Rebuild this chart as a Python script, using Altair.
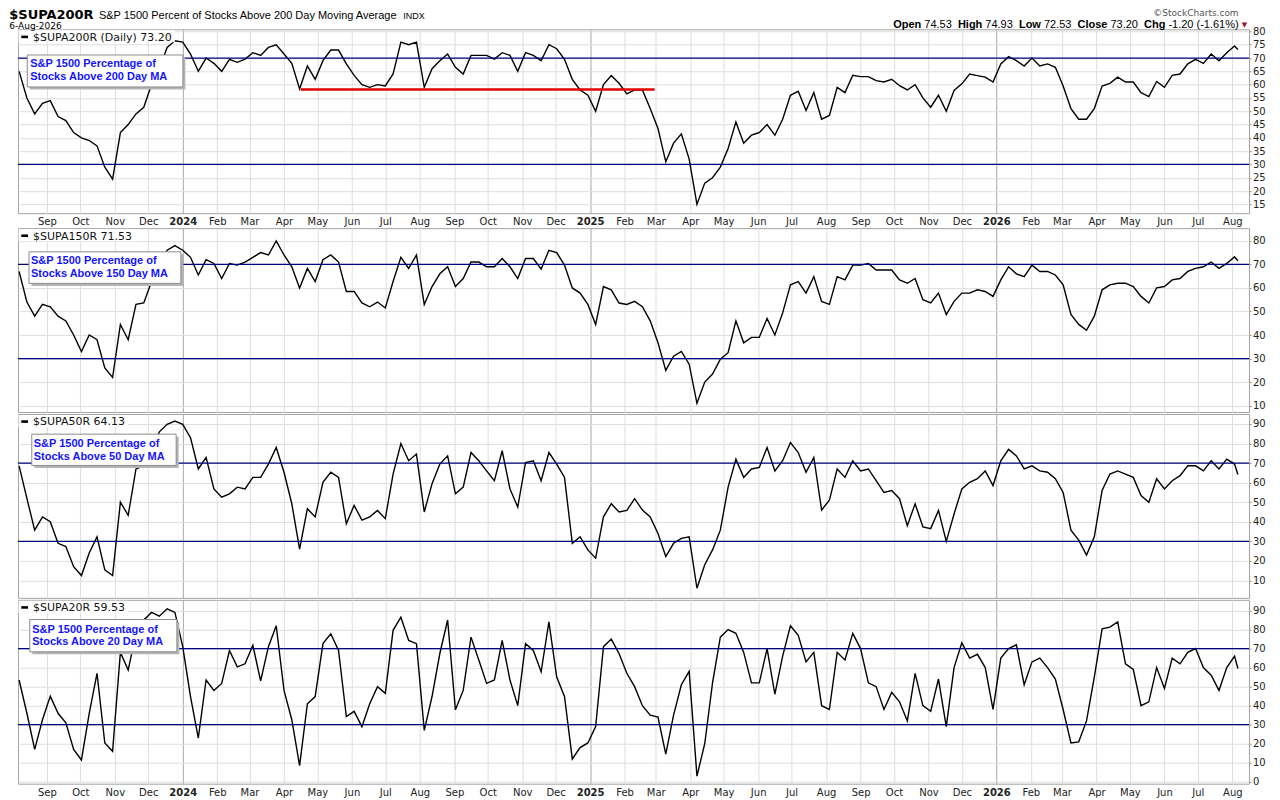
import altair as alt
import pandas as pd

# ---------------- data (weekly readings, plus the last session) ----------------
START = "2023-08-07"
N_WEEKS = 157
LAST_DAY = "2026-08-06"
WEEK_DATES = list(pd.date_range(START, periods=N_WEEKS, freq="7D").strftime("%Y-%m-%dT00:00:00"))
DATES = WEEK_DATES + [LAST_DAY + "T00:00:00"]

SUPA200R = [
    65, 55, 49, 53, 54, 48, 46.5, 42, 40, 39,
    37, 29, 24.5, 42, 45, 49, 51.5, 60, 66, 74,
    76.5, 76, 71.5, 65, 70, 68, 65, 69.5, 68.4, 69.6,
    72, 71, 74, 75, 71.5, 68, 58.4, 67, 62, 69,
    73, 73, 67.8, 63.5, 60, 59, 60, 59.5, 64, 76,
    75, 76, 59, 66, 69, 71.5, 66.5, 64, 71, 71,
    71, 69.6, 72, 71, 65, 72, 71, 69, 75, 73.5,
    69.5, 62, 58, 56, 50, 60, 63.4, 60.5, 56.5, 58,
    58, 51, 43.5, 31, 38, 41.5, 32, 15, 23, 25,
    29, 36, 46, 38, 41, 42, 45, 41, 47, 56,
    57.5, 50.3, 57, 47, 48.4, 59, 57, 63.5, 63, 63,
    61.5, 61, 62, 59.6, 58, 60, 55, 51.5, 56, 50,
    57.8, 60.3, 64, 63.4, 62.8, 61, 67.8, 70.5, 69, 67,
    70, 67, 67.8, 66.5, 59.5, 51, 47, 47, 51, 59.5,
    60.5, 62.8, 61, 61, 57, 55.5, 61.2, 59, 63.5, 64,
    67.8, 69.5, 68, 71.5, 69, 72, 74.5,
    73.20,
]

SUPA150R = [
    67, 54, 48, 53, 52, 48, 46, 40, 33, 40,
    38, 26, 22, 44.5, 38, 53, 53.6, 62.7, 70, 76,
    78, 76, 73, 65.5, 72, 70.4, 64, 70.4, 69.7, 71,
    73, 75, 74, 80, 74, 69, 60, 68.3, 62.7, 72,
    74, 71, 58.5, 58.5, 53.6, 52, 54, 51.5, 62.7, 73,
    68.3, 74, 53, 60.6, 66, 69, 60.6, 64, 71, 71,
    69, 69, 72.5, 69, 64, 72.5, 72.5, 68, 76, 75,
    69.7, 60, 57.8, 53, 44.5, 60.6, 59.2, 53.6, 53, 54.3,
    52, 46, 36.7, 25, 31, 33, 27.6, 11, 20, 23.4,
    29.7, 32.5, 46, 36.7, 39, 39, 47, 40, 49.4, 61.3,
    62.7, 57.8, 64.8, 54.3, 53, 64.8, 63.4, 69.7, 69.7, 70.4,
    67.6, 67.6, 67.6, 63.4, 62, 64, 55, 53.6, 57.8, 48.7,
    54.3, 57.8, 57.8, 59.2, 58.5, 56.4, 63.4, 69, 66, 64.8,
    69.7, 67, 67, 65.5, 61.3, 48.7, 44.5, 42, 48, 59.2,
    61.3, 62, 62, 60.6, 56.4, 53.6, 60, 60.6, 63.4, 64,
    67, 68.3, 69, 71, 68.3, 70.4, 73.2,
    71.53,
]

SUPA50R = [
    68.6, 52, 35.7, 42.5, 40, 29, 27.3, 17, 12.5, 24,
    32.3, 15.4, 12.5, 50, 43.3, 67, 68.6, 75, 86, 89.8,
    91.5, 89.8, 83, 67, 72.9, 56.8, 52.6, 54.3, 57.7, 56.8,
    62.7, 62.7, 69.5, 78, 65.3, 49.2, 26, 46.7, 42.5, 60.2,
    65.3, 62.7, 39, 48.4, 40.8, 42.5, 45.8, 41.6, 64.4, 80,
    71.2, 74.6, 45, 59.4, 69.5, 73.7, 54.3, 57.7, 75.4, 71.2,
    66, 61, 76.3, 56.8, 47.5, 70.3, 71.2, 61, 75.4, 69.5,
    62.7, 29, 32.3, 25.6, 21.4, 42.5, 49.2, 45, 45.8, 51.8,
    46, 42.5, 34, 22.2, 29, 31.5, 32.3, 6, 18, 25.6,
    35.7, 57.7, 72, 62.7, 67, 67.8, 78, 66, 71.2, 80.5,
    75.4, 65.3, 72.9, 46, 51, 67, 62.7, 71.2, 66, 67,
    61, 55, 56, 51.8, 38, 49.2, 37.4, 36.5, 45.8, 30,
    44, 56.8, 60.2, 62, 66, 58.5, 71.2, 77, 73.7, 67,
    68.6, 66, 65.3, 62, 55, 35.7, 30.6, 23, 32.3, 56,
    64.4, 66, 64.4, 62.7, 53.4, 50, 62, 56.8, 61, 63.6,
    68.6, 68.6, 66, 71.2, 67, 72, 69.5,
    64.13,
]

SUPA20R = [
    53.5, 36, 17, 32.6, 45, 36, 31, 17, 11.5, 36,
    57, 20.4, 16, 68, 58.7, 78, 85, 89, 87, 90.9,
    89, 71, 44.8, 23, 53.5, 48, 51.7, 69, 60.4, 62,
    71.7, 53, 71, 82, 48, 32.6, 8.5, 41, 44.8, 72.6,
    77.8, 69, 34.3, 37, 29, 41, 50, 46.5, 79.6, 86.5,
    74.3, 72.6, 27, 44.8, 67.4, 85, 37.8, 48, 76, 64,
    51.7, 53.5, 74.3, 53.5, 40, 72.6, 69, 57.8, 84, 55,
    44.8, 12, 18, 20.4, 29, 71, 75, 67.4, 57, 50,
    40, 35, 34, 14.5, 35, 51, 58, 3, 20, 52,
    76, 80, 78, 68, 52, 52, 70, 46, 66, 82,
    77, 63, 68, 40, 38, 68, 64, 78, 70, 52,
    50, 38, 47, 42, 32, 57, 40, 37, 54, 29,
    60, 73, 65, 67, 60, 38, 65, 70, 72, 51,
    63, 65, 60, 54, 38, 20.4, 21, 32, 55, 80.4,
    81.3, 84, 62, 59, 40, 42, 60, 49, 65, 62,
    68, 70, 60, 56, 48, 60, 66,
    59.53,
]

LEVELS = [30, 70]
SUPPORT_START = "2024-04-16T00:00:00"
SUPPORT_END = "2025-02-28T00:00:00"
SUPPORT_LEVEL = 58.2

PANEL_LABELS = ["$SUPA200R (Daily) 73.20", "$SUPA150R 71.53", "$SUPA50R 64.13", "$SUPA20R 59.53"]
BOX_LINE1 = "S&P 1500 Percentage of"
BOX_LINE2 = ["Stocks Above 200 Day MA", "Stocks Above 150 Day MA",
             "Stocks Above 50 Day MA", "Stocks Above 20 Day MA"]
Y_DOMAINS = [[11.7, 80.8], [7.3, 85.4], [1.1, 95.1], [-1.0, 95.6]]
Y_TICKS = [list(range(15, 85, 5)), list(range(10, 90, 10)), list(range(10, 100, 10)), list(range(0, 100, 10))]

TITLE = "$SUPA200R"
SUBTITLE = "S&P 1500 Percent of Stocks Above 200 Day Moving Average"
EXCH = "INDX"
DATE_TXT = "6-Aug-2026"
QUOTE = [("Open", True), ("74.53", False), ("High", True), ("74.93", False), ("Low", True),
         ("72.53", False), ("Close", True), ("73.20", False), ("Chg", True), ("-1.20 (-1.61%)", False)]
COPY = "\u00a9StockCharts.com"

# ---------------- layout helpers ----------------
W, H = 1232, 184
ORIGIN_X, ORIGIN_Y = 16.7, 28.3   # page position of the first plot area
NAVY = "#000080"
AX_FONT = "DejaVu Sans"
TXT_FONT = "Liberation Sans"

AR_REG = {" ": 278, "(": 333, ")": 333, "%": 889, "-": 333, ".": 278}
for d in "0123456789":
    AR_REG[d] = 556
AR_BOLD = {"O": 778, "p": 611, "e": 556, "n": 611, "H": 722, "i": 278, "g": 611, "h": 611,
           "L": 611, "o": 611, "w": 778, "C": 722, "l": 278, "s": 556, " ": 278}


def text_width(s, size, bold=False):
    table = AR_BOLD if bold else AR_REG
    return sum(table.get(c, 556) for c in s) * size / 1000.0


def rx(page_x):
    return page_x - ORIGIN_X


def ry(page_y):
    return page_y - ORIGIN_Y


X_DOMAIN = [alt.DateTime(year=2023, month=8, date=6), alt.DateTime(year=2026, month=8, date=16)]
IS_YEAR = "month(datum.value) == 0"


def x_enc(show_labels, field="date"):
    axis = alt.Axis(
        title=None, grid=True, ticks=False, domain=False, labels=show_labels,
        tickCount=alt.TimeIntervalStep(interval="month", step=1),
        gridColor={"condition": {"test": IS_YEAR, "value": "#a9a9a9"}, "value": "#dedede"},
        labelExpr="month(datum.value) == 0 ? timeFormat(datum.value, '%Y') : timeFormat(datum.value, '%b')",
        labelFontWeight={"condition": {"test": IS_YEAR, "value": "bold"}, "value": "normal"},
        labelFont=AX_FONT, labelFontSize=10, labelColor="#222222", labelPadding=3.5,
        labelFlush=False, labelOverlap=False,
    )
    return alt.X(f"{field}:T", scale=alt.Scale(domain=X_DOMAIN), axis=axis)


def y_enc(i):
    return alt.Y(
        "value:Q",
        scale=alt.Scale(domain=Y_DOMAINS[i], nice=False, zero=False),
        axis=alt.Axis(title=None, orient="right", values=Y_TICKS[i], grid=True, gridColor="#dedede",
                      domain=False, tickSize=2, tickColor="#888888", labelFont=AX_FONT,
                      labelFontSize=10, labelColor="#222222", labelPadding=1.5),
    )


def one():
    return pd.DataFrame({"a": [0]})


def txt(s, x, y, size, weight="normal", font=TXT_FONT, color="#000000", align="left", baseline="alphabetic"):
    return alt.Chart(pd.DataFrame({"t": [s]})).mark_text(
        align=align, baseline=baseline, font=font, fontSize=size, fontWeight=weight, color=color
    ).encode(x=alt.value(x), y=alt.value(y), text="t:N")


def rect(x1, x2, y1, y2, fill, stroke=""):
    kw = dict(fill=fill)
    if stroke:
        kw.update(stroke=stroke, strokeWidth=1)
    return alt.Chart(one()).mark_rect(**kw).encode(
        x=alt.value(x1), x2=alt.value(x2), y=alt.value(y1), y2=alt.value(y2))


def hrule(x1, x2, y, color, width, opacity=1.0):
    return alt.Chart(one()).mark_rule(color=color, strokeWidth=width, opacity=opacity).encode(
        x=alt.value(x1), x2=alt.value(x2), y=alt.value(y))


# box geometry per panel (relative to each plot area): x1, x2, y1, y2, text x, line1 y, line2 y
BOXES = [
    (9.3, 165.0, 25.7, 57.7, 12.3, 34.4, 47.7),
    (11.0, 163.0, 23.7, 55.3, 13.0, 33.0, 46.3),
    (13.8, 158.3, 20.2, 51.5, 15.8, 30.2, 42.8),
    (11.8, 159.0, 19.7, 52.0, 14.3, 29.7, 42.3),
]
LABEL_BG_W = [157, 117, 110, 110]

SERIES = [SUPA200R, SUPA150R, SUPA50R, SUPA20R]


def panel(i):
    show = i in (0, 3)
    X = x_enc(show)
    Y = y_enc(i)
    df = pd.DataFrame({"date": DATES, "value": SERIES[i]})
    layers = [
        alt.Chart(df).mark_line(color="#000000", strokeWidth=1.4, clip=True).encode(x=X, y=Y),
        alt.Chart(pd.DataFrame({"value": LEVELS})).mark_rule(color=NAVY, strokeWidth=1.2).encode(y=Y),
    ]
    if i == 0:
        sup = pd.DataFrame({"date": [SUPPORT_START], "date2": [SUPPORT_END], "value": [SUPPORT_LEVEL]})
        layers.append(alt.Chart(sup).mark_rule(color="#e00000", strokeWidth=2.6).encode(
            x=X, x2="date2:T", y=Y))
    # panel label with white background
    layers += [
        rect(0.5, LABEL_BG_W[i], 1.0, 13.0, "#ffffff"),
        hrule(3.3, 10.0, 7.6, "#000000", 2.6),
        txt(PANEL_LABELS[i], 15.0, 8.4, 11, font=AX_FONT, color="#111111", baseline="middle"),
    ]
    # legend box with shadow
    bx1, bx2, by1, by2, tx, ty1, ty2 = BOXES[i]
    layers += [
        rect(bx1 + 2.5, bx2 + 2.5, by1 + 2.5, by2 + 2.5, "#b5b5b5"),
        rect(bx1, bx2, by1, by2, "#ffffff", "#8c8c8c"),
        txt(BOX_LINE1, tx, ty1, 11, weight="bold", color="#1414ff", baseline="middle"),
        txt(BOX_LINE2[i], tx, ty2, 11, weight="bold", color="#1414ff", baseline="middle"),
    ]
    # keep every panel's left extent equal so plot areas line up
    layers.append(hrule(rx(8.0), 0, 90, "#ffffff", 1, opacity=0))
    if i == 0:
        base = ry(18.2)
        title_w = 85.7
        sub_x = rx(8.0) + title_w + 4
        layers += [
            txt(TITLE, rx(8.0), base, 13, weight="bold", font="DejaVu Sans"),
            txt(SUBTITLE, sub_x, base, 11),
            txt(EXCH, sub_x + 299.6 + 5, base, 9),
            txt(DATE_TXT, rx(8.0), ry(27.8), 9, font="DejaVu Sans"),
            txt(COPY, rx(1238.3), ry(15.2), 9, font="DejaVu Sans", color="#555555", align="right"),
        ]
        # quote line, laid out right to left
        qb = ry(27.0)
        right = rx(1238.3)
        for k in range(len(QUOTE) - 1, -1, -1):
            s, bold = QUOTE[k]
            w = text_width(s, 11, bold)
            left = right - w
            layers.append(txt(s, left, qb, 11, weight="bold" if bold else "normal"))
            right = left - (3.0 if not bold else 6.1)
        layers.append(txt("\u25bc", rx(1244.2), ry(25.8), 7, font="DejaVu Sans", color="#a0102a", align="center"))
    return alt.layer(*layers).properties(width=W, height=H)


chart = alt.vconcat(*[panel(i) for i in range(4)], spacing=0).properties(
    padding={"left": 0, "top": 0, "right": 6, "bottom": 0},
    background="#ffffff",
).configure_view(stroke="#a3a3a3", strokeWidth=1)

chart.save("out.html", embed_options={"renderer": "svg", "actions": False})
